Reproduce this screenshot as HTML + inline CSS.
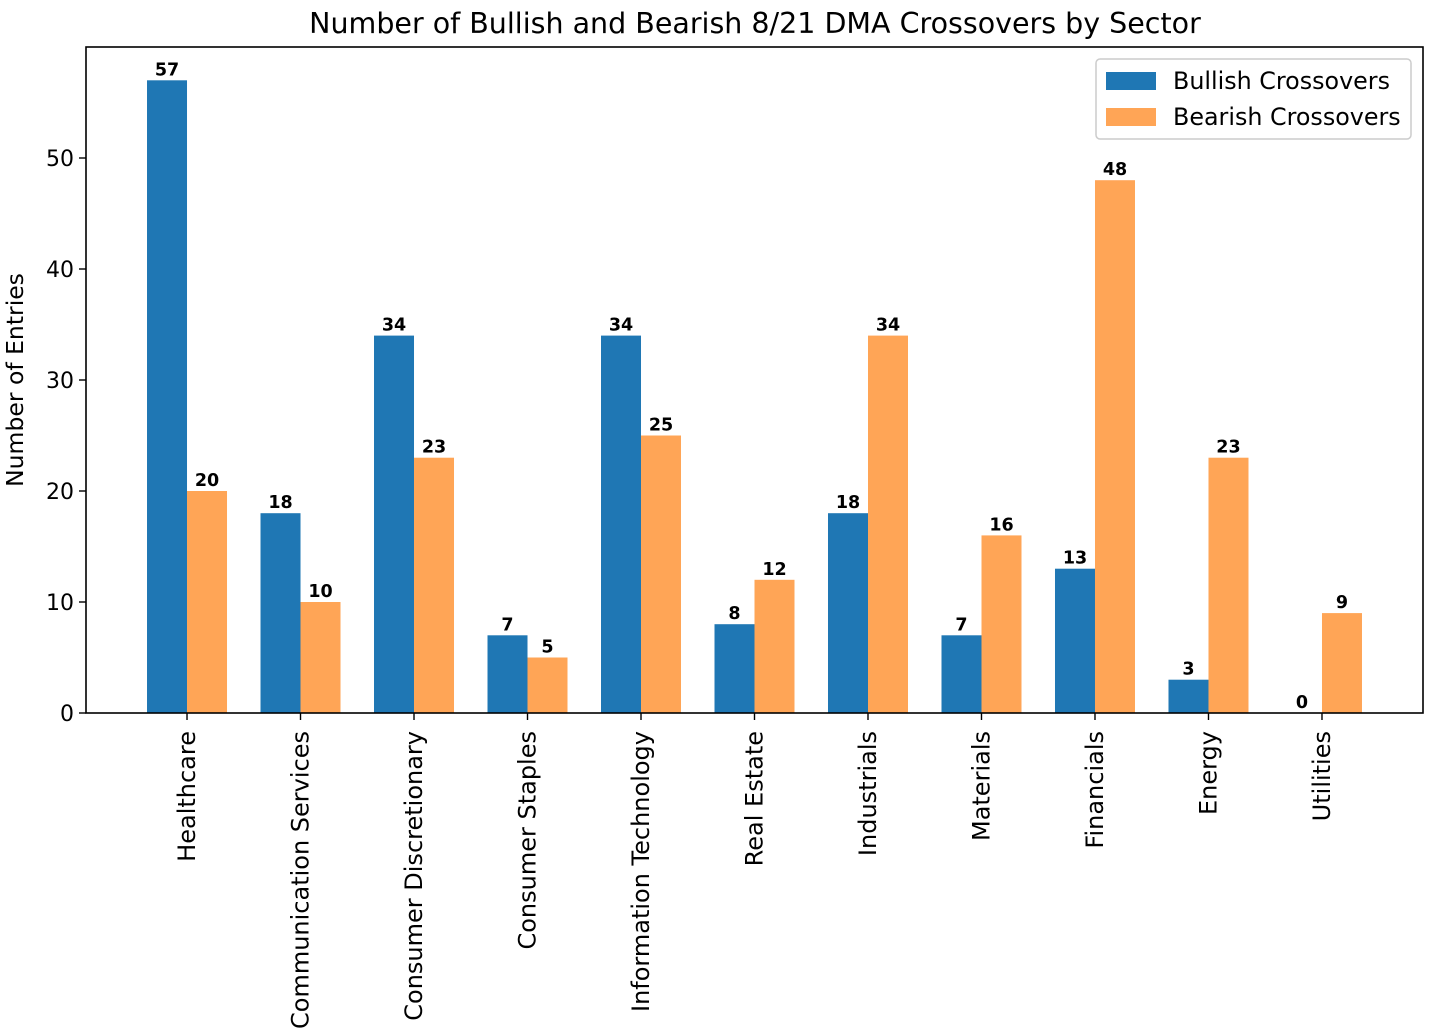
<!DOCTYPE html>
<html><head><meta charset="utf-8"><style>
body{margin:0;background:#fff}
svg{display:block;font-family:"DejaVu Sans","Liberation Sans",sans-serif}
</style></head><body>
<svg id="chart" width="1430" height="1028" viewBox="0 0 1430 1028">
<rect width="1430" height="1028" fill="#fff"/>
<text x="755" y="33" text-anchor="middle" font-size="28.5">Number of Bullish and Bearish 8/21 DMA Crossovers by Sector</text>
<g id="plot"></g>
<rect x="86" y="47" width="1337" height="666" fill="none" stroke="#000" stroke-width="1.6"/>
<text transform="translate(23,380) rotate(-90)" text-anchor="middle" font-size="23.5">Number of Entries</text>
<g>
<rect x="1096" y="59" width="315" height="80" rx="4" fill="#fff" stroke="#ccc" stroke-width="1.5"/>
<rect x="1106" y="72" width="50" height="18" fill="#1f77b4"/>
<text x="1173" y="89" font-size="23.8">Bullish Crossovers</text>
<rect x="1106" y="108" width="50" height="18" fill="#ffa556"/>
<text x="1173" y="125" font-size="23.8">Bearish Crossovers</text>
</g>
</svg>
<script>
const categories=["Healthcare","Communication Services","Consumer Discretionary","Consumer Staples","Information Technology","Real Estate","Industrials","Materials","Financials","Energy","Utilities"];
const bullish=[57,18,34,7,34,8,18,7,13,3,0];
const bearish=[20,10,23,5,25,12,34,16,48,23,9];
const yTicks=[0,10,20,30,40,50];
const NS="http://www.w3.org/2000/svg";
const L=86,R=1423,B=713;
const x=i=>L+(i+0.89)*(R-L)/11.78;
const y=v=>B-v*11.1;
const bw=40;
const g=document.getElementById('plot');
function mk(t,a,txt){const e=document.createElementNS(NS,t);for(const k in a)e.setAttribute(k,a[k]);if(txt!==undefined)e.textContent=txt;g.appendChild(e);return e;}
yTicks.forEach(v=>{
 const t=mk('line',{x1:L-7,x2:L,y1:y(v),y2:y(v),stroke:'#000','stroke-width':1.4});
 
 
 const l=mk('text',{x:L-12,y:y(v)+8,'text-anchor':'end','font-size':22},v);
 
 
});
categories.forEach((c,i)=>{
 const cx=x(i);
 [[bullish[i],cx-bw,'#1f77b4','bar-bullish'],[bearish[i],cx,'#ffa556','bar-bearish']].forEach(([v,bx,col,nm])=>{
  const r=mk('rect',{x:bx,y:y(v),width:bw,height:B-y(v),fill:col});
  
  
  const t=mk('text',{x:bx+bw/2,y:y(v)-5,'text-anchor':'middle','font-size':17.5,'font-weight':'bold'},v);
  
  
 });
 const tk=mk('line',{x1:cx,x2:cx,y1:B,y2:B+7,stroke:'#000','stroke-width':1.4});
 
 
 const lb=mk('text',{transform:`translate(${cx+8},${B+18}) rotate(-90)`,'text-anchor':'end','font-size':24},c);
 
 
});
</script>
</body></html>
